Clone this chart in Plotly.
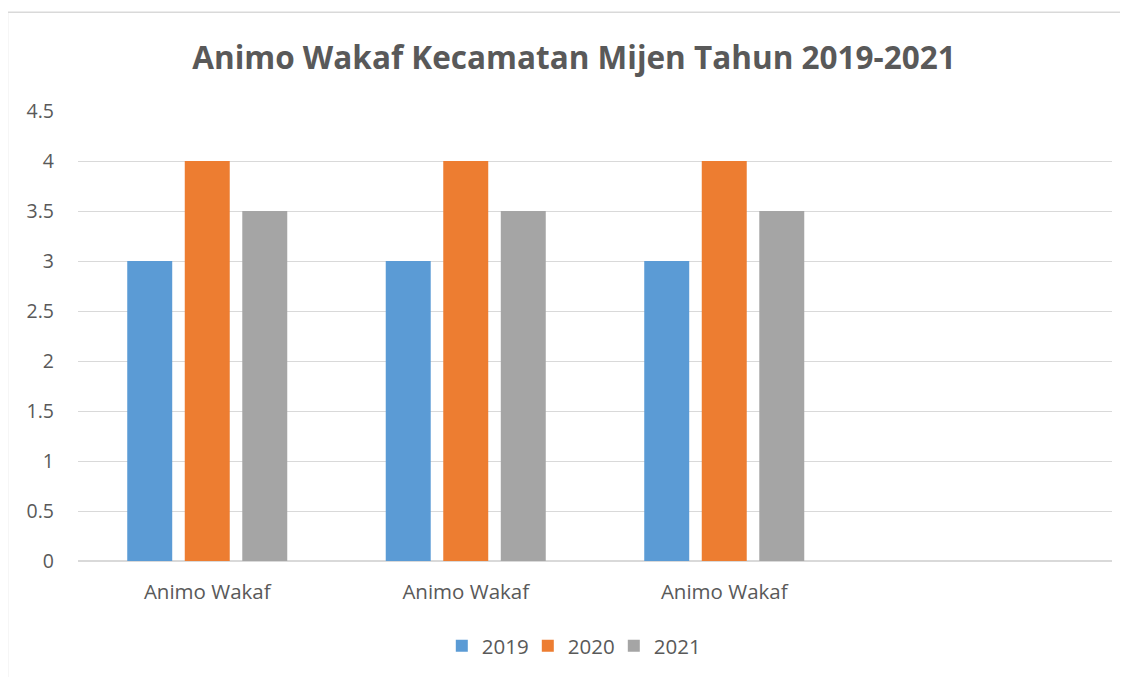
import plotly.graph_objects as go

categories = ["Animo Wakaf", "Animo Wakaf", "Animo Wakaf"]
series_names = ["2019", "2020", "2021"]
values_2019 = [3, 3, 3]
values_2020 = [4, 4, 4]
values_2021 = [3.5, 3.5, 3.5]
colors = ["#5B9BD5", "#ED7D31", "#A5A5A5"]
y_ticks = [0, 0.5, 1, 1.5, 2, 2.5, 3, 3.5, 4, 4.5]
y_ticktext = ["0", "0.5", "1", "1.5", "2", "2.5", "3", "3.5", "4", "4.5"]

x_pos = list(range(len(categories)))
fig = go.Figure()
for name, vals, col in zip(series_names, [values_2019, values_2020, values_2021], colors):
    fig.add_trace(go.Bar(x=x_pos, y=vals, name=name, marker=dict(color=col, line=dict(width=0))))

FONT = "Open Sans"
GREY = "#595959"
W, H = 1120, 669  # page body has an 8px margin
fig.update_layout(
    width=W, height=H,
    paper_bgcolor="white", plot_bgcolor="white",
    margin=dict(l=70, r=16, t=103, b=115),
    barmode="group", bargap=0.3325, bargroupgap=0.218,
    title=dict(text="<b>Animo Wakaf Kecamatan Mijen Tahun 2019-2021</b>",
               font=dict(family=FONT, size=31.5, color=GREY),
               x=566 / W, xanchor="center", xref="container",
               y=1 - 50 / H, yanchor="middle", yref="container"),
    xaxis=dict(range=[-0.5, 3.5], tickvals=x_pos, ticktext=categories,
               showgrid=False, zeroline=False, showline=False, ticks="",
               ticklabelstandoff=16,
               tickfont=dict(family=FONT, size=20.5, color=GREY), fixedrange=True),
    yaxis=dict(range=[0, 4.5], tickvals=y_ticks, ticktext=y_ticktext,
               showgrid=True, gridcolor="#D9D9D9", gridwidth=1,
               zeroline=True, zerolinecolor="#D9D9D9", zerolinewidth=1.5,
               showline=False, ticks="", ticklabelstandoff=23,
               tickfont=dict(family=FONT, size=19.5, color=GREY), fixedrange=True),
    legend=dict(orientation="h", x=0.4766, xanchor="center", y=-0.186, yanchor="middle",
                font=dict(family=FONT, size=20.5, color=GREY), traceorder="normal",
                entrywidth=41, entrywidthmode="pixels"),
    showlegend=True,
)
fig.add_shape(type="rect", xref="paper", yref="paper",
              x0=(7.5 - 78) / 1034, x1=(1140 - 78) / 1034,
              y0=(562 - 690) / 451, y1=(562 - 12) / 451,
              line=dict(color="#D9D9D9", width=1.5), fillcolor="rgba(0,0,0,0)", layer="below")

fig.write_html("out.html")
